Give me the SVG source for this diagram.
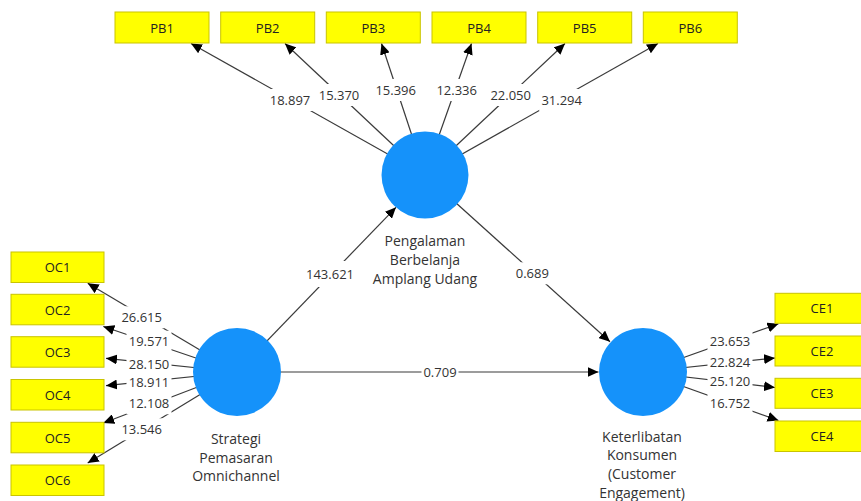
<svg xmlns="http://www.w3.org/2000/svg" width="861" height="501" viewBox="0 0 861 501">
<style>
text{font-family:"Open Sans","Liberation Sans",sans-serif}
.box{fill:#ffff00;stroke:#c9c400;stroke-width:1}
.bt{font-size:13px;fill:#222;text-anchor:middle}
.lv{fill:#1592fa}
.nl{font-size:14px;fill:#333;text-anchor:middle}
.c{stroke:#3a3a3a;stroke-width:1.2;fill:none;marker-end:url(#ah)}
.lb rect{fill:#fff}
.lb text{font-size:13px;fill:#333;text-anchor:middle}
</style>
<defs>
<marker id="ah" markerUnits="userSpaceOnUse" markerWidth="11" markerHeight="10" refX="11" refY="5" orient="auto">
<path d="M0,0 L11,5 L0,10 z" fill="#000"/>
</marker>
</defs>
<g id="connectors">
<line class="c" x1="425" y1="175" x2="191" y2="43.5"/>
<line class="c" x1="425" y1="175" x2="285" y2="43.5"/>
<line class="c" x1="425" y1="175" x2="381.5" y2="43.5"/>
<line class="c" x1="425" y1="175" x2="471.5" y2="43.5"/>
<line class="c" x1="425" y1="175" x2="565" y2="43.5"/>
<line class="c" x1="425" y1="175" x2="658" y2="43.5"/>
<line class="c" x1="237" y1="372" x2="87.7" y2="283.3"/>
<line class="c" x1="237" y1="372" x2="103.3" y2="326.5"/>
<line class="c" x1="237" y1="372" x2="106" y2="358.3"/>
<line class="c" x1="237" y1="372" x2="106" y2="385.7"/>
<line class="c" x1="237" y1="372" x2="103.3" y2="423"/>
<line class="c" x1="237" y1="372" x2="87.7" y2="463"/>
<line class="c" x1="643" y1="372" x2="778.5" y2="323.8"/>
<line class="c" x1="643" y1="372" x2="775" y2="358"/>
<line class="c" x1="643" y1="372" x2="775" y2="387.5"/>
<line class="c" x1="643" y1="372" x2="778.5" y2="420.5"/>
<line class="c" x1="237" y1="372" x2="396" y2="207.3"/>
<line class="c" x1="425" y1="175" x2="610" y2="341.7"/>
<line class="c" x1="237" y1="372" x2="598.5" y2="372"/>
<g class="lb">
<rect x="267.5" y="89" width="45" height="22"/><text x="290" y="104.5">18.897</text>
<rect x="316.5" y="84" width="45" height="22"/><text x="339" y="99.5">15.370</text>
<rect x="373.2" y="79" width="45" height="22"/><text x="395.7" y="94.5">15.396</text>
<rect x="434.2" y="79" width="45" height="22"/><text x="456.7" y="94.5">12.336</text>
<rect x="488.2" y="84" width="45" height="22"/><text x="510.7" y="99.5">22.050</text>
<rect x="539.2" y="89" width="45" height="22"/><text x="561.7" y="104.5">31.294</text>
<rect x="119.2" y="306.3" width="45" height="22"/><text x="141.7" y="321.8">26.615</text>
<rect x="126.5" y="330.7" width="45" height="22"/><text x="149" y="346.2">19.571</text>
<rect x="126.5" y="353.3" width="45" height="22"/><text x="149" y="368.8">28.150</text>
<rect x="126.5" y="371.7" width="45" height="22"/><text x="149" y="387.2">18.911</text>
<rect x="126.5" y="392.3" width="45" height="22"/><text x="149" y="407.8">12.108</text>
<rect x="119.2" y="418.3" width="45" height="22"/><text x="141.7" y="433.8">13.546</text>
<rect x="707.5" y="330.7" width="45" height="22"/><text x="730" y="346.2">23.653</text>
<rect x="707.5" y="351.3" width="45" height="22"/><text x="730" y="366.8">22.824</text>
<rect x="707.5" y="370.7" width="45" height="22"/><text x="730" y="386.2">25.120</text>
<rect x="707.5" y="392.3" width="45" height="22"/><text x="730" y="407.8">16.752</text>
<rect x="304" y="261" width="52" height="26"/><text x="330" y="278.5">143.621</text>
<rect x="513.8" y="262.3" width="37" height="22"/><text x="532.3" y="277.8">0.689</text>
<rect x="421.5" y="361" width="37" height="22"/><text x="440" y="376.5">0.709</text>
</g>
</g>
<g id="PB1"><rect class="box" x="115" y="12" width="94" height="31"/><text class="bt" x="162" y="32.5">PB1</text></g>
<g id="PB2"><rect class="box" x="220.7" y="12" width="94" height="31"/><text class="bt" x="267.7" y="32.5">PB2</text></g>
<g id="PB3"><rect class="box" x="326.3" y="12" width="94" height="31"/><text class="bt" x="373.3" y="32.5">PB3</text></g>
<g id="PB4"><rect class="box" x="432" y="12" width="94" height="31"/><text class="bt" x="479" y="32.5">PB4</text></g>
<g id="PB5"><rect class="box" x="537.7" y="12" width="94" height="31"/><text class="bt" x="584.7" y="32.5">PB5</text></g>
<g id="PB6"><rect class="box" x="643.3" y="12" width="94" height="31"/><text class="bt" x="690.3" y="32.5">PB6</text></g>
<g id="OC1"><rect class="box" x="11" y="252" width="93" height="30.5"/><text class="bt" x="57.5" y="272.2">OC1</text></g>
<g id="OC2"><rect class="box" x="11" y="294.3" width="93" height="30.5"/><text class="bt" x="57.5" y="314.5">OC2</text></g>
<g id="OC3"><rect class="box" x="11" y="336.7" width="93" height="30.5"/><text class="bt" x="57.5" y="356.9">OC3</text></g>
<g id="OC4"><rect class="box" x="11" y="379.5" width="93" height="30.5"/><text class="bt" x="57.5" y="399.7">OC4</text></g>
<g id="OC5"><rect class="box" x="11" y="422.3" width="93" height="30.5"/><text class="bt" x="57.5" y="442.5">OC5</text></g>
<g id="OC6"><rect class="box" x="11" y="465" width="93" height="30.5"/><text class="bt" x="57.5" y="485.2">OC6</text></g>
<g id="CE1"><rect class="box" x="775" y="293.3" width="94" height="30"/><text class="bt" x="822" y="313">CE1</text></g>
<g id="CE2"><rect class="box" x="775" y="336" width="94" height="30"/><text class="bt" x="822" y="355.7">CE2</text></g>
<g id="CE3"><rect class="box" x="775" y="378.3" width="94" height="30"/><text class="bt" x="822" y="398">CE3</text></g>
<g id="CE4"><rect class="box" x="775" y="421" width="94" height="30.5"/><text class="bt" x="822" y="440.9">CE4</text></g>
<g id="PB"><circle class="lv" cx="425" cy="175" r="43.5"/>
<text class="nl" x="425" y="246">Pengalaman</text>
<text class="nl" x="425" y="265">Berbelanja</text>
<text class="nl" x="425" y="284">Amplang Udang</text></g>
<g id="OC"><circle class="lv" cx="237" cy="372" r="44"/>
<text class="nl" x="236" y="444.3">Strategi</text>
<text class="nl" x="236" y="462.7">Pemasaran</text>
<text class="nl" x="236" y="480.9">Omnichannel</text></g>
<g id="CE"><circle class="lv" cx="643" cy="372" r="44"/>
<text class="nl" x="642" y="441.7">Keterlibatan</text>
<text class="nl" x="642" y="460.4">Konsumen</text>
<text class="nl" x="642" y="479.1">(Customer</text>
<text class="nl" x="642" y="497.8">Engagement)</text></g>
</svg>
